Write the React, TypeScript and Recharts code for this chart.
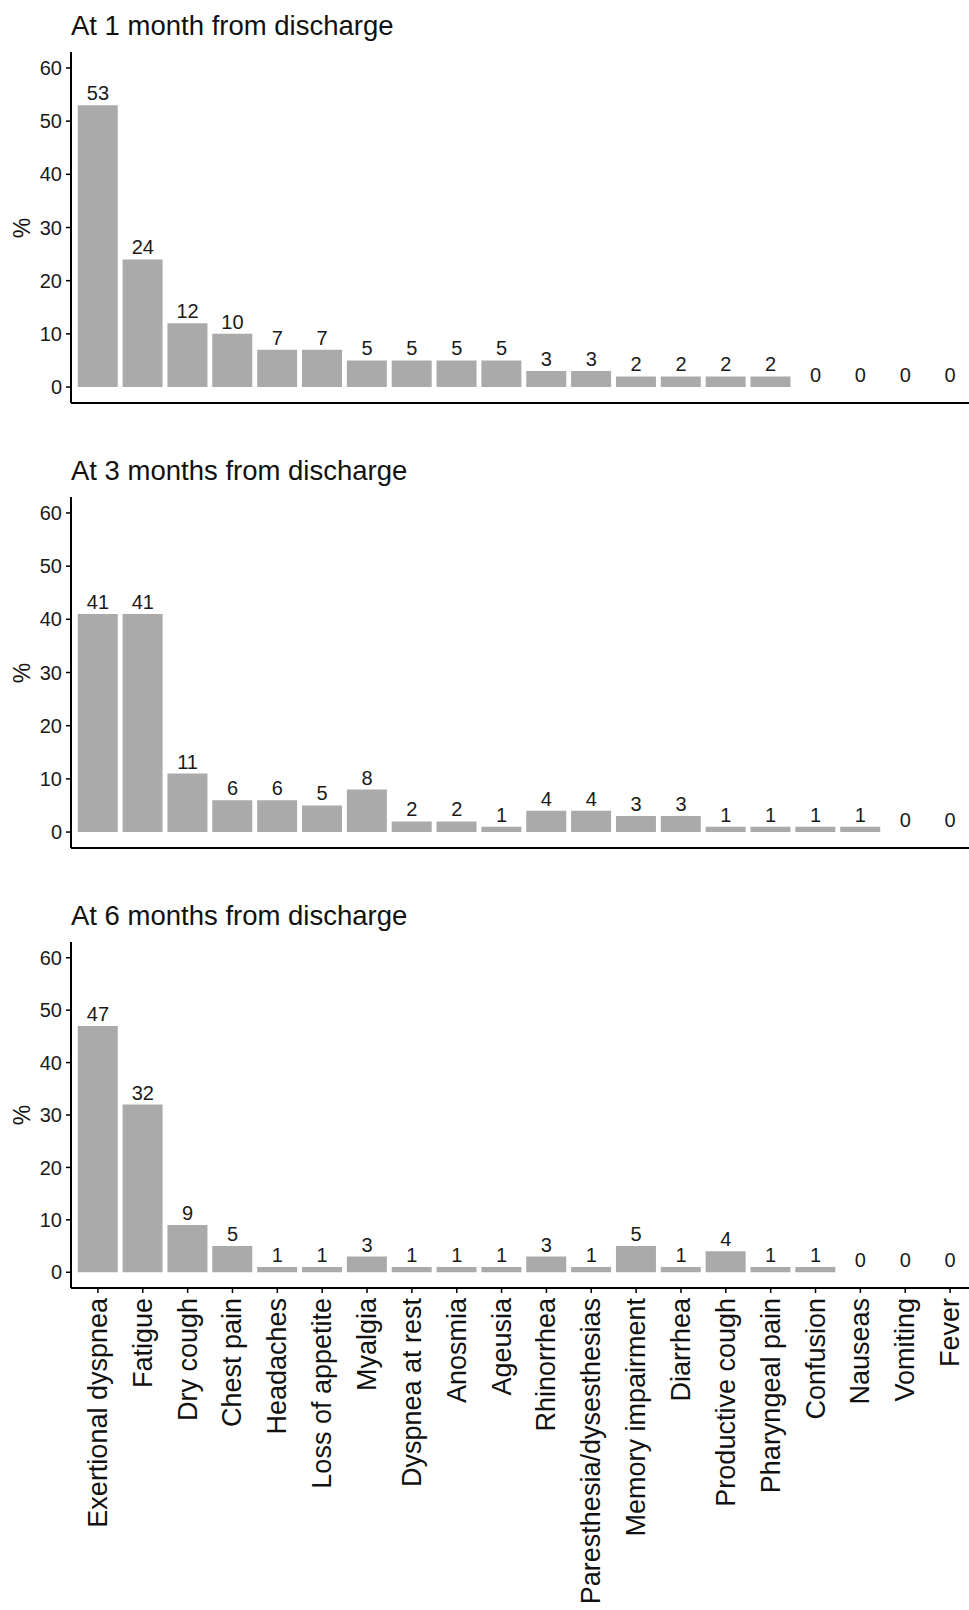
import { ComposedChart, Bar, Line, XAxis, YAxis, LabelList } from "recharts"

const categories = [
    "Exertional dyspnea", "Fatigue", "Dry cough", "Chest pain", "Headaches",
    "Loss of appetite", "Myalgia", "Dyspnea at rest", "Anosmia", "Ageusia",
    "Rhinorrhea", "Paresthesia/dysesthesias", "Memory impairment", "Diarrhea",
    "Productive cough", "Pharyngeal pain", "Confusion", "Nauseas", "Vomiting", "Fever",
]

const month1 = [53, 24, 12, 10, 7, 7, 5, 5, 5, 5, 3, 3, 2, 2, 2, 2, 0, 0, 0, 0]
const month3 = [41, 41, 11, 6, 6, 5, 8, 2, 2, 1, 4, 4, 3, 3, 1, 1, 1, 1, 0, 0]
const month6 = [47, 32, 9, 5, 1, 1, 3, 1, 1, 1, 3, 1, 5, 1, 4, 1, 1, 0, 0, 0]

const titles = [
    "At 1 month from discharge",
    "At 3 months from discharge",
    "At 6 months from discharge",
]

const yTicks = [0, 10, 20, 30, 40, 50, 60]

const FONT = "'Liberation Sans', Arial, sans-serif"
const CHART_W = 977

function CategoryTick({ x, y, payload }: any) {
    return (
        <text
            x={x}
            y={y}
            transform={`rotate(-90 ${x} ${y})`}
            textAnchor="end"
            dominantBaseline="central"
            fontSize={27}
            fontFamily={FONT}
            fill="#111"
        >
            {payload.value}
        </text>
    )
}

function Panel({ values, title, top, plotH, showLabels }: {
    values: number[]; title: string; top: number; plotH: number; showLabels: boolean
}) {
    const data = categories.map((name, i) => ({ name, v: values[i] }))
    const axisH = showLabels ? 1610 - (top + plotH) : 12
    return (
        <>
            <div style={{
                position: "absolute", left: 71, top: top - 41, fontSize: 27.5,
                lineHeight: "30px", fontFamily: FONT, color: "#111", whiteSpace: "nowrap",
            }}>
                {title}
            </div>
            <div style={{
                position: "absolute", left: 22, top: top + plotH / 2,
                transform: "translate(-50%, -50%) rotate(-90deg)", fontSize: 23,
                fontFamily: FONT, color: "#111",
            }}>
                %
            </div>
            <div style={{ position: "absolute", left: 0, top: top - 10 }}>
                <ComposedChart
                    width={CHART_W}
                    height={10 + plotH + axisH}
                    data={data}
                    margin={{ top: 10, right: 0, bottom: 0, left: 0 }}
                    barCategoryGap="5%"
                >
                    <XAxis
                        dataKey="name"
                        interval={0}
                        height={axisH}
                        padding={{ left: 4.5, right: 4.5 }}
                        axisLine={{ stroke: "#000", strokeWidth: 2 }}
                        tickLine={showLabels ? { stroke: "#000", strokeWidth: 1.5 } : false}
                        tickSize={5}
                        tickMargin={5}
                        tick={showLabels ? <CategoryTick /> : false}
                    />
                    <YAxis
                        width={71}
                        domain={[-3, 63]}
                        ticks={yTicks}
                        interval={0}
                        axisLine={{ stroke: "#000", strokeWidth: 2 }}
                        tickLine={{ stroke: "#000", strokeWidth: 1.5 }}
                        tickSize={5}
                        tickMargin={4}
                        tick={{ fontSize: 20, fill: "#1a1a1a", fontFamily: FONT }}
                    />
                    <Bar dataKey="v" fill="#aaaaaa" isAnimationActive={false} />
                    {/* invisible line only carries the value labels, so zeros get one too */}
                    <Line
                        dataKey="v"
                        stroke="none"
                        dot={false}
                        activeDot={false}
                        isAnimationActive={false}
                    >
                        <LabelList
                            dataKey="v"
                            position="top"
                            offset={5}
                            fontSize={20}
                            fill="#1a1a1a"
                            fontFamily={FONT}
                        />
                    </Line>
                </ComposedChart>
            </div>
        </>
    )
}

export default function App() {
    return (
        <div style={{
            position: "absolute", left: 0, top: 0, width: 969, height: 1610,
            overflow: "hidden", background: "#fff",
        }}>
            <Panel values={month1} title={titles[0]} top={52} plotH={351} showLabels={false} />
            <Panel values={month3} title={titles[1]} top={497} plotH={351} showLabels={false} />
            <Panel values={month6} title={titles[2]} top={942} plotH={346} showLabels={true} />
        </div>
    )
}
